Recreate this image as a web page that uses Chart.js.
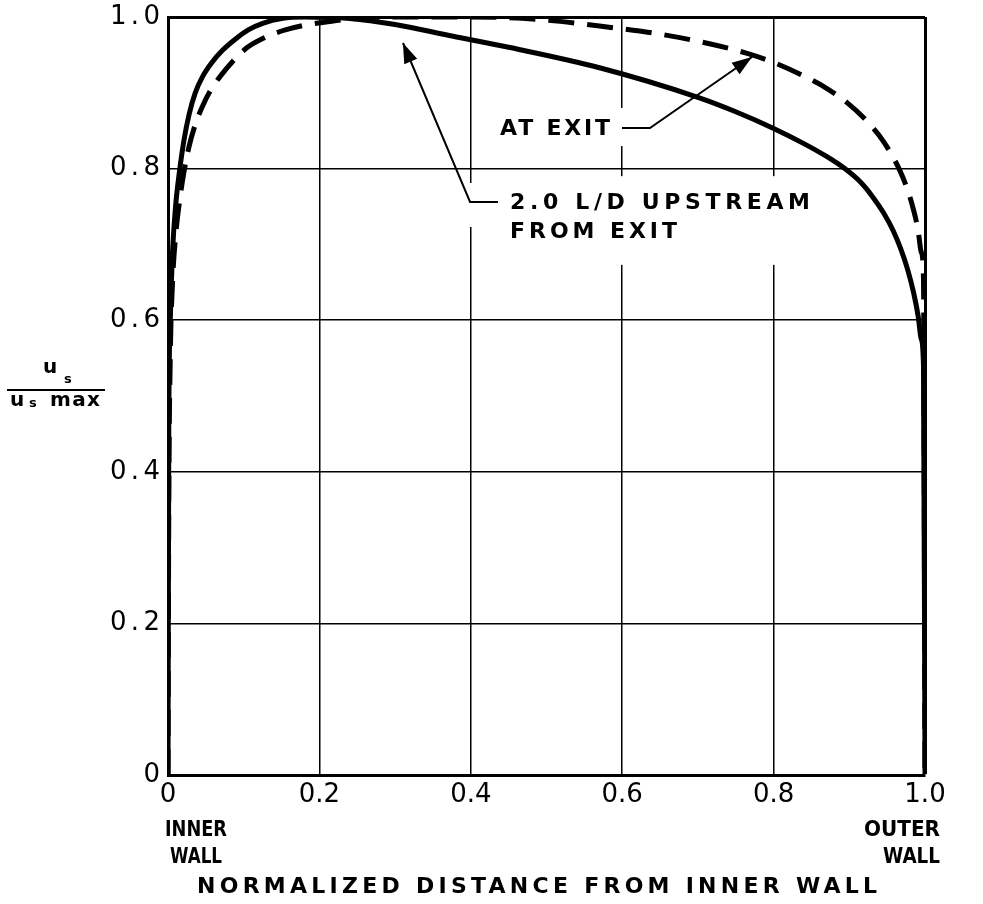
<!DOCTYPE html>
<html>
<head>
<meta charset="utf-8">
<script src="https://cdn.jsdelivr.net/npm/chart.js@4.4.1/dist/chart.umd.min.js"></script>
<style>
  html, body { margin: 0; padding: 0; background: #fff; }
  #wrap { width: 983px; height: 904px; }
</style>
</head>
<body>
<div id="wrap"><canvas id="profileChart" width="983" height="904"></canvas></div>
<script>
// Velocity profile u_s / u_s max across the passage, inner wall (0) to outer wall (1.0)
const xTickLabels = ['0', '0.2', '0.4', '0.6', '0.8', '1.0'];
const yTickLabels = ['0', '0.2', '0.4', '0.6', '0.8', '1.0'];

// 2.0 L/D upstream from exit (solid)
const upstreamX = [0, 0.001, 0.003, 0.006, 0.01, 0.015, 0.021, 0.028, 0.036, 0.046, 0.058, 0.072, 0.088, 0.106,
  0.126, 0.15, 0.18, 0.24, 0.3, 0.37, 0.45, 0.57, 0.7, 0.75, 0.8, 0.84, 0.87, 0.894, 0.915, 0.93, 0.945, 0.958,
  0.968, 0.977, 0.985, 0.991, 0.995, 0.998, 1.0];
const upstreamY = [0, 0.45, 0.6, 0.69, 0.75, 0.795, 0.837, 0.872, 0.9, 0.922, 0.94, 0.956, 0.97, 0.983,
  0.992, 0.998, 1.0, 0.998, 0.99, 0.976, 0.96, 0.933, 0.894, 0.875, 0.853, 0.833, 0.816, 0.8, 0.782, 0.764, 0.742,
  0.718, 0.694, 0.667, 0.636, 0.605, 0.575, 0.54, 0];

// at exit (dashed)
const exitX = [0, 0.001, 0.003, 0.006, 0.01, 0.015, 0.021, 0.028, 0.036, 0.045, 0.056, 0.07, 0.086, 0.105,
  0.128, 0.155, 0.185, 0.22, 0.26, 0.3, 0.4, 0.5, 0.57, 0.64, 0.7, 0.765, 0.8, 0.84, 0.87, 0.897, 0.92, 0.94,
  0.955, 0.967, 0.977, 0.985, 0.991, 0.995, 0.998, 1.0];
const exitY = [0, 0.35, 0.55, 0.65, 0.71, 0.755, 0.795, 0.83, 0.858, 0.881, 0.903, 0.923, 0.942, 0.96,
  0.973, 0.983, 0.99, 0.995, 0.999, 1.0, 1.0, 0.996, 0.988, 0.979, 0.968, 0.952, 0.94, 0.922, 0.906, 0.887, 0.866,
  0.843, 0.82, 0.797, 0.772, 0.745, 0.718, 0.69, 0.655, 0];

const toPoints = (xs, ys) => xs.map((x, i) => ({ x: x, y: ys[i] }));

const FONT = "'DejaVu Sans', sans-serif";

// callouts, placed in data units
const atExitNote = { lines: ['AT EXIT'], at: [0.4386, 0.852], widths: [110],
  path: [[0.5997, 0.8536], [0.6367, 0.8536], [0.7715, 0.9472]] };
const upstreamNote = { lines: ['2.0 L/D UPSTREAM', 'FROM EXIT'], at: [0.4518, 0.7546], widths: [300, 167],
  path: [[0.436, 0.756], [0.399, 0.756], [0.3104, 0.9657]] };

// white patches behind the callout lettering (grid is broken there)
const knockouts = [
  [0.4254, 0.8799, 0.6499, 0.8298],
  [0.3884, 0.781, 0.4148, 0.723],
  [0.4386, 0.79, 0.8547, 0.673]
];

// text squeezed or spread to a given width
function fitText(ctx, text, x, y, w) {
  ctx.letterSpacing = '0px';
  const nat = ctx.measureText(text).width;
  if (nat >= w || text.length < 2) {
    ctx.fillText(text, x, y, w);
  } else {
    ctx.letterSpacing = ((w - nat) / (text.length - 1)) + 'px';
    ctx.fillText(text, x, y);
  }
  ctx.letterSpacing = '0px';
}

function drawArrow(ctx, pts) {
  ctx.beginPath();
  ctx.moveTo(pts[0][0], pts[0][1]);
  for (let i = 1; i < pts.length; i++) ctx.lineTo(pts[i][0], pts[i][1]);
  ctx.stroke();
  const [tx, ty] = pts[pts.length - 1];
  const [fx, fy] = pts[pts.length - 2];
  const a = Math.atan2(ty - fy, tx - fx);
  const len = 20, half = 7;
  ctx.beginPath();
  ctx.moveTo(tx, ty);
  ctx.lineTo(tx - len * Math.cos(a) + half * Math.sin(a), ty - len * Math.sin(a) - half * Math.cos(a));
  ctx.lineTo(tx - len * Math.cos(a) - half * Math.sin(a), ty - len * Math.sin(a) + half * Math.cos(a));
  ctx.closePath();
  ctx.fill();
}

const notesPlugin = {
  id: 'notes',
  beforeDatasetsDraw(chart) {
    const { ctx, scales: { x, y } } = chart;
    ctx.save();
    ctx.fillStyle = '#fff';
    knockouts.forEach(([x0, y0, x1, y1]) => {
      const px0 = x.getPixelForValue(x0), px1 = x.getPixelForValue(x1);
      const py0 = y.getPixelForValue(y0), py1 = y.getPixelForValue(y1);
      ctx.fillRect(px0, py0, px1 - px0, py1 - py0);
    });
    ctx.restore();
  },
  afterDatasetsDraw(chart) {
    const { ctx, scales: { x, y } } = chart;
    ctx.save();
    ctx.strokeStyle = '#000';
    ctx.fillStyle = '#000';
    ctx.lineWidth = 2;
    [atExitNote, upstreamNote].forEach(note => {
      drawArrow(ctx, note.path.map(p => [x.getPixelForValue(p[0]), y.getPixelForValue(p[1])]));
      ctx.font = `bold 22px ${FONT}`;
      ctx.textAlign = 'left';
      ctx.textBaseline = 'middle';
      const left = x.getPixelForValue(note.at[0]);
      const top = y.getPixelForValue(note.at[1]);
      note.lines.forEach((line, i) => fitText(ctx, line, left, top + i * 29, note.widths[i]));
    });
    ctx.restore();
  },
  afterDraw(chart) {
    const { ctx, chartArea, scales: { y } } = chart;
    ctx.save();
    ctx.fillStyle = '#000';
    ctx.strokeStyle = '#000';

    // y tick labels, right aligned against the axis
    ctx.font = `26px ${FONT}`;
    ctx.textBaseline = 'middle';
    ctx.textAlign = 'left';
    yTickLabels.forEach((lab, i) => {
      const w = lab.length > 1 ? 50 : ctx.measureText(lab).width;
      fitText(ctx, lab, chartArea.left - 8 - w, y.getPixelForValue(i * 0.2), w);
    });

    // fraction u_s / u_s max
    ctx.textBaseline = 'alphabetic';
    ctx.font = `bold 20px ${FONT}`;
    ctx.fillText('u', 43, 373);
    ctx.fillText('u', 10, 406);
    fitText(ctx, 'max', 50, 406, 50);
    ctx.font = `bold 13px ${FONT}`;
    ctx.fillText('s', 64, 383);
    ctx.fillText('s', 29, 407);
    ctx.lineWidth = 2;
    ctx.beginPath();
    ctx.moveTo(7, 390);
    ctx.lineTo(105, 390);
    ctx.stroke();

    // wall names and axis title
    ctx.font = `bold 22px ${FONT}`;
    ctx.textBaseline = 'middle';
    fitText(ctx, 'INNER', 165, 830, 62);
    fitText(ctx, 'WALL', 170, 857, 52);
    fitText(ctx, 'OUTER', 864, 830, 76);
    fitText(ctx, 'WALL', 883, 857, 57);
    fitText(ctx, 'NORMALIZED DISTANCE FROM INNER WALL', 197, 887, 680);
    ctx.restore();
  }
};

const edgeWidth = c => (c.tick && Math.abs(c.tick.value - 1) < 1e-6 ? 3 : 1.5);

new Chart(document.getElementById('profileChart').getContext('2d'), {
  type: 'line',
  data: {
    datasets: [{
      label: '2.0 L/D UPSTREAM FROM EXIT',
      data: toPoints(upstreamX, upstreamY),
      borderColor: '#000',
      borderWidth: 5,
      pointRadius: 0,
      fill: false,
      cubicInterpolationMode: 'monotone'
    }, {
      label: 'AT EXIT',
      data: toPoints(exitX, exitY),
      borderColor: '#000',
      borderWidth: 5,
      borderDash: [26, 13],
      pointRadius: 0,
      fill: false,
      cubicInterpolationMode: 'monotone'
    }]
  },
  options: {
    responsive: false,
    animation: false,
    devicePixelRatio: 1,
    layout: { padding: { top: 17, right: 58, left: 0, bottom: 0 } },
    plugins: { legend: { display: false }, tooltip: { enabled: false } },
    scales: {
      x: {
        type: 'linear',
        min: 0,
        max: 1,
        afterFit: s => { s.height = 129; },
        border: { color: '#000', width: 3 },
        grid: { color: '#000', lineWidth: edgeWidth, drawTicks: false },
        ticks: {
          stepSize: 0.2,
          padding: 5,
          color: '#000',
          font: { family: FONT, size: 26 },
          maxRotation: 0,
          callback: v => xTickLabels[Math.round(v / 0.2)]
        }
      },
      y: {
        type: 'linear',
        min: 0,
        max: 1,
        afterFit: s => { s.width = 168; },
        border: { color: '#000', width: 3 },
        grid: { color: '#000', lineWidth: edgeWidth, drawTicks: false },
        ticks: { stepSize: 0.2, display: false }
      }
    }
  },
  plugins: [notesPlugin]
});
</script>
</body>
</html>
